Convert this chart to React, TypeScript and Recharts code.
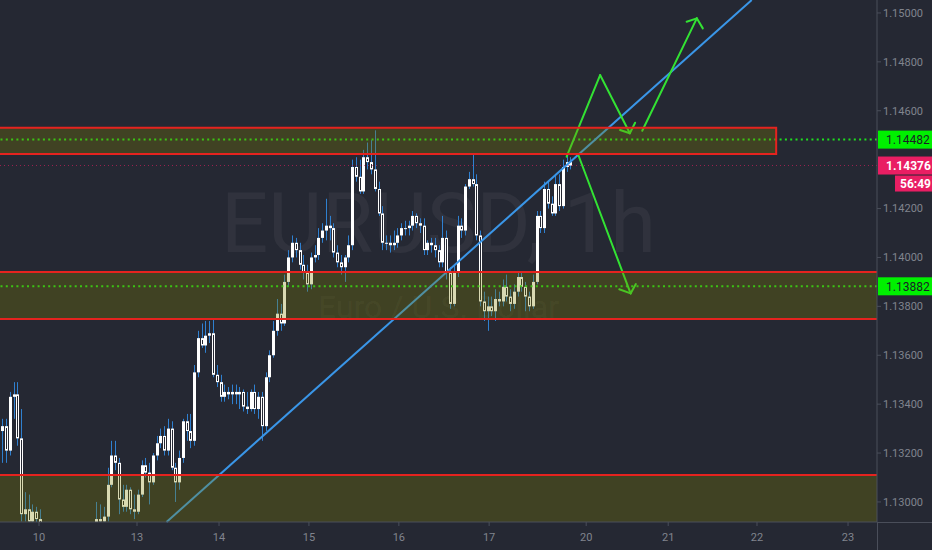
import { ComposedChart, Bar, XAxis, YAxis, ReferenceLine, ReferenceArea } from 'recharts'

const BG = '#252833'
const WICK = '#2f80d0'
const AXIS = '#4a4e5a'
const TEXT = '#80848e'
const RED = '#e5231f'
const GREEN = '#1ee01e'
const PINK = '#e91e63'

// hourly candles, [open, high, low, close]
const candles: number[][] = [
  [1.1329, 1.1334, 1.1316, 1.1331], [1.1331, 1.1334, 1.1316, 1.1321], [1.1321, 1.1345, 1.1319, 1.1343],
  [1.1343, 1.1349, 1.1334, 1.1344], [1.1344, 1.1349, 1.1323, 1.1326], [1.1326, 1.1338, 1.1292, 1.1295],
  [1.1295, 1.1304, 1.1292, 1.1297], [1.1297, 1.1303, 1.1290, 1.1292], [1.1292, 1.1299, 1.1290, 1.1296],
  [1.1296, 1.1298, 1.1289, 1.1293], [1.1293, 1.1297, 1.1288, 1.1291], [1.1291, 1.1291, 1.1282, 1.1284],
  [1.1284, 1.1288, 1.1278, 1.1280], [1.1280, 1.1285, 1.1274, 1.1282], [1.1282, 1.1287, 1.1276, 1.1278],
  [1.1278, 1.1283, 1.1272, 1.1275], [1.1275, 1.1280, 1.1270, 1.1277], [1.1277, 1.1282, 1.1273, 1.1280],
  [1.1280, 1.1284, 1.1275, 1.1278], [1.1278, 1.1283, 1.1274, 1.1281], [1.1281, 1.1286, 1.1277, 1.1284],
  [1.1284, 1.1288, 1.1279, 1.1282], [1.1282, 1.1287, 1.1278, 1.1285], [1.1285, 1.1290, 1.1281, 1.1287],
  [1.1287, 1.1290, 1.1283, 1.1289], [1.1289, 1.1300, 1.1288, 1.1293], [1.1293, 1.1299, 1.1290, 1.1292],
  [1.1292, 1.1298, 1.1290, 1.1294], [1.1294, 1.1314, 1.1292, 1.1307], [1.1307, 1.1325, 1.1306, 1.1319],
  [1.1319, 1.1325, 1.1313, 1.1316], [1.1316, 1.1318, 1.1295, 1.1301], [1.1301, 1.1307, 1.1296, 1.1298],
  [1.1298, 1.1307, 1.1296, 1.1305], [1.1305, 1.1306, 1.1295, 1.1297], [1.1297, 1.1303, 1.1293, 1.1296],
  [1.1296, 1.1305, 1.1295, 1.1303], [1.1303, 1.1317, 1.1302, 1.1315], [1.1315, 1.1318, 1.1310, 1.1312],
  [1.1312, 1.1316, 1.1299, 1.1308], [1.1308, 1.1320, 1.1307, 1.1319], [1.1319, 1.1327, 1.1317, 1.1324],
  [1.1324, 1.1330, 1.1322, 1.1327], [1.1327, 1.1331, 1.1319, 1.1321], [1.1321, 1.1334, 1.1319, 1.1330],
  [1.1330, 1.1333, 1.1313, 1.1314], [1.1314, 1.1316, 1.1300, 1.1308], [1.1308, 1.1321, 1.1305, 1.1318],
  [1.1318, 1.1334, 1.1316, 1.1333], [1.1333, 1.1336, 1.1325, 1.1329], [1.1329, 1.1336, 1.1322, 1.1325],
  [1.1325, 1.1356, 1.1323, 1.1353], [1.1353, 1.1370, 1.1351, 1.1367], [1.1367, 1.1373, 1.1363, 1.1364],
  [1.1364, 1.1374, 1.1361, 1.1368], [1.1368, 1.1374, 1.1365, 1.1369], [1.1369, 1.1375, 1.1351, 1.1352],
  [1.1352, 1.1356, 1.1347, 1.1349], [1.1349, 1.1352, 1.1341, 1.1343], [1.1343, 1.1348, 1.1341, 1.1345],
  [1.1345, 1.1347, 1.1342, 1.1344], [1.1344, 1.1348, 1.1340, 1.1345], [1.1345, 1.1348, 1.1340, 1.1344],
  [1.1344, 1.1347, 1.1338, 1.1345], [1.1345, 1.1346, 1.1337, 1.1339], [1.1339, 1.1345, 1.1336, 1.1338],
  [1.1338, 1.1346, 1.1337, 1.1345], [1.1345, 1.1348, 1.1336, 1.1338], [1.1338, 1.1345, 1.1334, 1.1343],
  [1.1343, 1.1345, 1.1325, 1.1331], [1.1331, 1.1353, 1.1329, 1.1351], [1.1351, 1.1362, 1.1349, 1.1360],
  [1.1360, 1.1374, 1.1359, 1.1370], [1.1370, 1.1383, 1.1368, 1.1377], [1.1377, 1.1381, 1.1370, 1.1373],
  [1.1373, 1.1393, 1.1372, 1.1390], [1.1390, 1.1403, 1.1388, 1.1400], [1.1400, 1.1409, 1.1398, 1.1406],
  [1.1406, 1.1408, 1.1400, 1.1403], [1.1403, 1.1406, 1.1395, 1.1397], [1.1397, 1.1401, 1.1391, 1.1394],
  [1.1394, 1.1397, 1.1386, 1.1389], [1.1389, 1.1402, 1.1387, 1.1400], [1.1400, 1.1405, 1.1398, 1.1401],
  [1.1401, 1.1412, 1.1399, 1.1408], [1.1408, 1.1414, 1.1406, 1.1411], [1.1411, 1.1424, 1.1407, 1.1413],
  [1.1413, 1.1417, 1.1407, 1.1412], [1.1412, 1.1414, 1.1400, 1.1402], [1.1402, 1.1405, 1.1396, 1.1398],
  [1.1398, 1.1401, 1.1393, 1.1396], [1.1396, 1.1401, 1.1390, 1.1400], [1.1400, 1.1409, 1.1398, 1.1405],
  [1.1405, 1.1440, 1.1403, 1.1437], [1.1437, 1.1441, 1.1431, 1.1433], [1.1433, 1.1440, 1.1426, 1.1427],
  [1.1427, 1.1444, 1.1426, 1.1441], [1.1441, 1.1447, 1.1436, 1.1439], [1.1439, 1.1448, 1.1434, 1.1436],
  [1.1436, 1.1452, 1.1427, 1.1428], [1.1428, 1.1431, 1.1417, 1.1418], [1.1418, 1.1421, 1.1403, 1.1406],
  [1.1406, 1.1409, 1.1403, 1.1406], [1.1406, 1.1409, 1.1402, 1.1405], [1.1405, 1.1411, 1.1403, 1.1406],
  [1.1406, 1.1412, 1.1404, 1.1409], [1.1409, 1.1414, 1.1407, 1.1412], [1.1412, 1.1415, 1.1409, 1.1412],
  [1.1412, 1.1415, 1.1409, 1.1413], [1.1413, 1.1419, 1.1411, 1.1417], [1.1417, 1.1418, 1.1412, 1.1414],
  [1.1414, 1.1416, 1.1410, 1.1413], [1.1413, 1.1416, 1.1401, 1.1403], [1.1403, 1.1407, 1.1401, 1.1406],
  [1.1406, 1.1408, 1.1402, 1.1405], [1.1405, 1.1408, 1.1400, 1.1403], [1.1403, 1.1405, 1.1396, 1.1398],
  [1.1398, 1.1417, 1.1396, 1.1408], [1.1408, 1.1411, 1.1391, 1.1394], [1.1394, 1.1396, 1.1379, 1.1381],
  [1.1381, 1.1397, 1.1380, 1.1394], [1.1394, 1.1417, 1.1392, 1.1413], [1.1413, 1.1416, 1.1408, 1.1411],
  [1.1411, 1.1430, 1.1409, 1.1429], [1.1429, 1.1435, 1.1428, 1.1432], [1.1432, 1.1442, 1.1429, 1.1430],
  [1.1430, 1.1434, 1.1407, 1.1409], [1.1409, 1.1411, 1.1380, 1.1382], [1.1382, 1.1386, 1.1374, 1.1378],
  [1.1378, 1.1384, 1.1370, 1.1380], [1.1380, 1.1384, 1.1376, 1.1378], [1.1378, 1.1387, 1.1374, 1.1383],
  [1.1383, 1.1386, 1.1380, 1.1382], [1.1382, 1.1391, 1.1380, 1.1388], [1.1388, 1.1393, 1.1382, 1.1384],
  [1.1384, 1.1387, 1.1378, 1.1381], [1.1381, 1.1389, 1.1379, 1.1386], [1.1386, 1.1394, 1.1384, 1.1392],
  [1.1392, 1.1394, 1.1386, 1.1388], [1.1388, 1.1390, 1.1378, 1.1384], [1.1384, 1.1386, 1.1378, 1.1380],
  [1.1380, 1.1393, 1.1379, 1.1390], [1.1390, 1.1419, 1.1389, 1.1417], [1.1417, 1.1419, 1.1410, 1.1412],
  [1.1412, 1.1431, 1.1410, 1.1428], [1.1428, 1.1431, 1.1420, 1.1422], [1.1422, 1.1425, 1.1417, 1.1418],
  [1.1418, 1.1434, 1.1417, 1.1430], [1.1430, 1.1434, 1.1419, 1.1421], [1.1421, 1.1440, 1.1420, 1.1437],
  [1.1437, 1.1442, 1.1435, 1.1439], [1.1439, 1.1441, 1.1436, 1.14376],
]

const dayTicks = [9.65, 35.7, 57.5, 81.4, 105.3, 129.3, 155.1, 176.9, 200.5, 224.7]
const dayLabels = ['10', '13', '14', '15', '16', '17', '20', '21', '22', '23']
const priceTicks = [1.13, 1.132, 1.134, 1.136, 1.138, 1.14, 1.142, 1.146, 1.148, 1.15]

const X_DOMAIN = [-0.72, 232.4]
const Y_DOMAIN = [1.12918, 1.15053]

// supply / demand boxes: [x1, x2, yLow, yHigh]
const zones = [
  [-5, 205.6, 1.14423, 1.1453],
  [-5, 240, 1.13748, 1.13941],
  [-5, 240, 1.128, 1.1311],
]
const levels = [1.14482, 1.13882]
const lastPrice = 1.14376
const countdown = '56:49'

const trend = [[43.54, 1.12918], [199.1, 1.15053]]
const arrows = [
  [[149.9, 1.14412], [158.8, 1.14746], [166.7, 1.14508]],
  [[164.1, 1.14521], [166.7, 1.14508], [168.1, 1.14551]],
  [[170.0, 1.14518], [184.5, 1.14978]],
  [[181.8, 1.14964], [184.5, 1.14978], [186.1, 1.14937]],
  [[153.0, 1.14419], [166.9, 1.13853]],
  [[163.9, 1.1387], [166.9, 1.13853], [168.3, 1.13891]],
]

const rows = candles.map((c, i) => ({ t: i, open: c[0], high: c[1], low: c[2], close: c[3] }))

const arrowSegments = arrows.flatMap(path =>
  path.slice(1).map((p, i) => [path[i], p])
)

function Candle(props: any) {
  const { x, y, width, height, payload } = props
  if (x == null || y == null || height == null) return null
  const { open, high, low, close } = payload
  const top = Math.min(y, y + height)
  const span = Math.abs(height)
  const py = (p: number) => top + ((high - p) / (high - low)) * span
  const cx = Math.round(x + width / 2) + 0.5
  const bTop = py(Math.max(open, close))
  const bh = Math.max(1, py(Math.min(open, close)) - bTop)
  return (
    <g>
      <line x1={cx} x2={cx} y1={top} y2={top + span} stroke={WICK} strokeWidth={1} />
      {close >= open
        ? <rect x={cx - 1.5} y={bTop} width={3} height={bh} fill="#ffffff" />
        : <rect x={cx - 1} y={bTop + 0.5} width={2} height={Math.max(0, bh - 1)} fill={BG} stroke="#ffffff" strokeWidth={1} />}
    </g>
  )
}

function AxisTag({ viewBox, text, fill, color, extra }: any) {
  if (!viewBox) return null
  const left = viewBox.x + viewBox.width + 1
  const cy = viewBox.y
  return (
    <g>
      <rect x={left} y={cy - 9} width={54} height={18} fill={fill} />
      <text x={left + 8} y={cy + 4.5} fill={color} fontSize={12} fontFamily="Roboto, sans-serif" fontWeight={extra ? 700 : 400}>{text}</text>
      {extra && (
        <g>
          <rect x={left + 17} y={cy + 10} width={37} height={16} fill={fill} />
          <text x={left + 22} y={cy + 22.5} fill={color} fontSize={12} fontFamily="Roboto, sans-serif" fontWeight={700}>{extra}</text>
        </g>
      )}
    </g>
  )
}

export default function App() {
  return (
    <div style={{ position: 'absolute', left: 0, top: 0, width: 932, height: 550, background: BG, overflow: 'hidden' }}>
      <div style={{ position: 'absolute', left: 0, top: 182, width: 877, textAlign: 'center', fontFamily: 'Roboto, sans-serif', fontSize: 83, lineHeight: 1, color: 'rgba(255,255,255,0.05)' }}>
        EURUSD, 1h
      </div>
      <div style={{ position: 'absolute', left: 0, top: 291, width: 877, textAlign: 'center', fontFamily: 'Roboto, sans-serif', fontSize: 32, lineHeight: 1, color: 'rgba(255,255,255,0.05)' }}>
        Euro / U.S. Dollar
      </div>
      <div style={{ position: 'absolute', left: 877, top: 522, width: 55, height: 1, background: AXIS }} />
      <div style={{ position: 'absolute', left: 877, top: 522, width: 1, height: 28, background: AXIS }} />
      <ComposedChart width={932} height={550} data={rows} margin={{ top: 0, right: 0, bottom: 0, left: 0 }} style={{ position: 'absolute', left: 0, top: 0 }}>
        <XAxis
          type="number"
          dataKey="t"
          domain={X_DOMAIN}
          allowDataOverflow
          ticks={dayTicks}
          tickFormatter={v => dayLabels[dayTicks.indexOf(v)] ?? ''}
          height={28}
          tick={{ fill: TEXT, fontSize: 11, fontFamily: 'Roboto, sans-serif' }}
          tickSize={4}
          tickMargin={7}
          stroke={AXIS}
        />
        <YAxis
          orientation="right"
          width={55}
          domain={Y_DOMAIN}
          allowDataOverflow
          ticks={priceTicks}
          tickFormatter={v => Number(v).toFixed(5)}
          tick={{ fill: TEXT, fontSize: 11, fontFamily: 'Roboto, sans-serif' }}
          tickSize={4}
          tickMargin={2}
          stroke={AXIS}
        />
        <ReferenceLine
          y={lastPrice}
          stroke={PINK}
          strokeOpacity={0.6}
          strokeDasharray="1 3"
          label={(p: any) => <AxisTag viewBox={p.viewBox} text={lastPrice.toFixed(5)} fill={PINK} color="#ffffff" extra={countdown} />}
        />
        <Bar dataKey={(d: any) => [d.low, d.high]} barSize={3} shape={(p: any) => <Candle {...p} />} isAnimationActive={false} />
        {zones.map((z, i) => (
          <ReferenceArea
            key={i}
            x1={z[0]}
            x2={z[1]}
            y1={z[2]}
            y2={z[3]}
            ifOverflow="hidden"
            fill="#808000"
            fillOpacity={0.3}
            stroke={RED}
            strokeWidth={2}
            zIndex={450}
          />
        ))}
        {levels.map(l => (
          <ReferenceLine
            key={l}
            y={l}
            stroke={GREEN}
            strokeWidth={2}
            strokeDasharray="2 3.3"
            label={(p: any) => <AxisTag viewBox={p.viewBox} text={l.toFixed(5)} fill="#00f000" color="#1a1d26" />}
          />
        ))}
        <ReferenceLine
          segment={[{ x: trend[0][0], y: trend[0][1] }, { x: trend[1][0], y: trend[1][1] }]}
          stroke="#3a96e8"
          strokeWidth={2}
          ifOverflow="visible"
        />
        {arrowSegments.map((s, i) => (
          <ReferenceLine
            key={'a' + i}
            segment={[{ x: s[0][0], y: s[0][1] }, { x: s[1][0], y: s[1][1] }]}
            stroke="#33e233"
            strokeWidth={2}
            strokeLinecap="round"
            ifOverflow="visible"
          />
        ))}
      </ComposedChart>
    </div>
  )
}
